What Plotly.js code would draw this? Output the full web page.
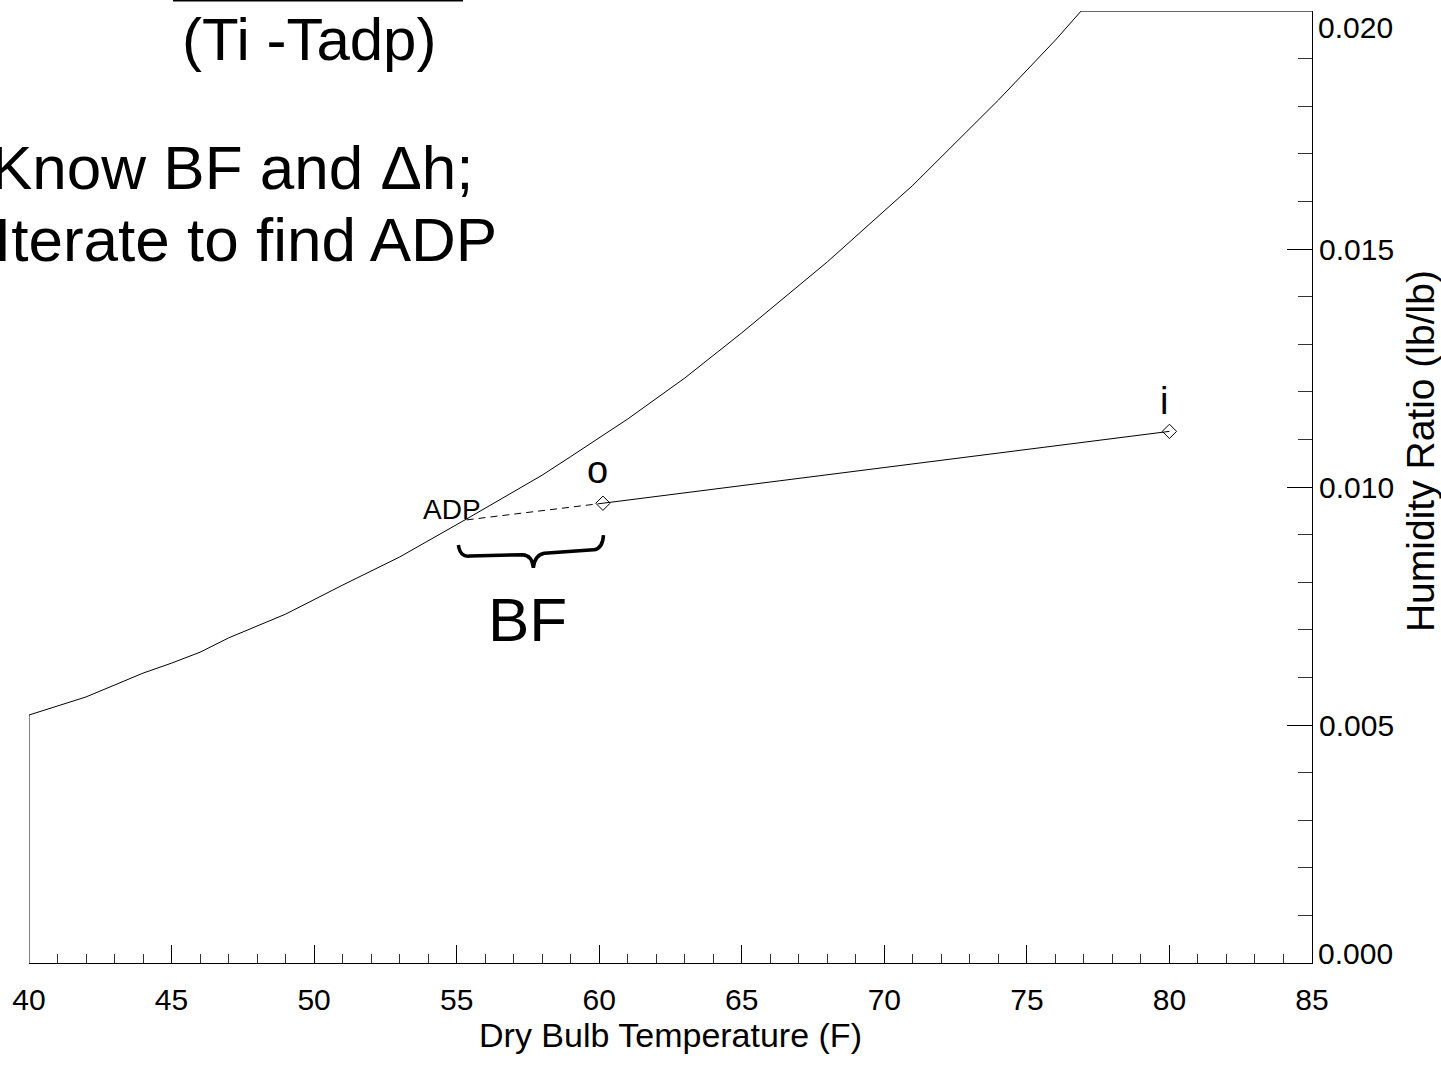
<!DOCTYPE html>
<html>
<head>
<meta charset="utf-8">
<script src="https://cdn.plot.ly/plotly-3.0.1.min.js"></script>
<style>
  html, body { margin: 0; padding: 0; background: #ffffff; }
  #chart { width: 1441px; height: 1070px; }
</style>
</head>
<body>
<div id="chart"></div>
<script>
// Saturation curve (dry bulb F, humidity ratio lb/lb)
const satT = [40, 42, 44, 45, 46, 47, 49, 51, 53, 55.35, 58, 59, 61, 63, 65, 68, 71, 74, 76, 76.9];
const satW = [0.00521, 0.00559, 0.00609, 0.00630, 0.00653, 0.00683, 0.00733, 0.00794, 0.00853, 0.00933,
              0.01025, 0.01064, 0.01143, 0.01229, 0.01324, 0.01473, 0.01634, 0.01813, 0.01939, 0.02000];
// Chart boundary limits
const tMin = 40, tMax = 85;
const wMin = 0, wMax = 0.020;

// Axis ticks
const xTickVals = [40, 45, 50, 55, 60, 65, 70, 75, 80, 85];
const yTickVals = [0, 0.005, 0.010, 0.015, 0.020];
// end labels are drawn nudged inside the plot (as in the reference), middle ones by the axis
const yTickText = ['', '0.005', '0.010', '0.015', ''];
const yEndLabels = ['0.000', '0.020'];

// Process points
const ptLabels = ['ADP', 'o', 'i'];
const ptT = [55.35, 60.13, 80.0];
const ptW = [0.00931, 0.00966, 0.01117];

// Text
const xTitle = 'Dry Bulb Temperature (F)';
const yTitle = 'Humidity Ratio (lb/lb)';
const noteLines = ['(Ti -Tadp)', 'Know BF and \u0394h;', 'Iterate to find ADP'];
const braceLabel = 'BF';

const FONT = 'Liberation Sans, Arial, sans-serif';

const boundaryX = [tMin].concat(satT, [tMax]);
const boundaryY = [wMin].concat(satW, [wMax]);

const traces = [
  { x: boundaryX, y: boundaryY, mode: 'lines', line: { color: '#000', width: 1 }, hoverinfo: 'skip', showlegend: false },
  { x: [ptT[0], ptT[1]], y: [ptW[0], ptW[1]], mode: 'lines', line: { color: '#000', width: 1, dash: '7px,5px' }, showlegend: false },
  { x: [ptT[1], ptT[2]], y: [ptW[1], ptW[2]], mode: 'lines+markers', line: { color: '#000', width: 1 },
    marker: { symbol: 'diamond-open', size: 11, color: '#000', line: { width: 1, color: '#000' } }, showlegend: false }
];

// Brace under ADP -> o (BF)
const bL = ptT[0] - 0.29, bR = ptT[1] + 0.02, bM = 57.69;
const braceTop = 0.00899, braceTip = 0.00830;
const bracePath = 'M ' + bL + ',0.00878 Q ' + (bL + 0.06) + ',0.00852 ' + (bL + 0.4) + ',0.00855 ' +
  'L ' + (bM - 0.38) + ',0.00858 Q ' + (bM - 0.04) + ',0.00857 ' + bM + ',' + braceTip + ' ' +
  'Q ' + (bM + 0.04) + ',0.00857 ' + (bM + 0.38) + ',0.00861 ' +
  'L ' + (bR - 0.35) + ',0.00868 Q ' + (bR - 0.03) + ',0.00870 ' + bR + ',' + braceTop;

const annotations = [
  { x: ptT[0], y: ptW[0], text: ptLabels[0], xanchor: 'right', yanchor: 'middle', xshift: 16, yshift: 10,
    showarrow: false, font: { family: FONT, size: 28, color: '#000' } },
  { x: ptT[1], y: ptW[1], text: ptLabels[1], xanchor: 'center', yanchor: 'middle', xshift: -5, yshift: 33,
    showarrow: false, font: { family: FONT, size: 38, color: '#000' } },
  { x: ptT[2], y: ptW[2], text: ptLabels[2], xanchor: 'center', yanchor: 'middle', xshift: -5, yshift: 30,
    showarrow: false, font: { family: FONT, size: 38, color: '#000' } },
  { x: 57.5, y: 0.00722, text: braceLabel, xanchor: 'center', yanchor: 'middle', showarrow: false,
    font: { family: FONT, size: 62, color: '#000' } },
  { xref: 'paper', yref: 'paper', x: 0.2185, y: 0.9700, text: noteLines[0], xanchor: 'center', yanchor: 'middle',
    showarrow: false, font: { family: FONT, size: 60, color: '#000' } },
  { xref: 'paper', yref: 'paper', x: -0.0312, y: 0.836, text: noteLines[1], xanchor: 'left', yanchor: 'middle',
    showarrow: false, font: { family: FONT, size: 62, color: '#000' } },
  { xref: 'paper', yref: 'paper', x: -0.0285, y: 0.7595, text: noteLines[2], xanchor: 'left', yanchor: 'middle',
    showarrow: false, font: { family: FONT, size: 62, color: '#000' } },
  { xref: 'paper', yref: 'paper', x: 1.0842, y: 0.5378, text: yTitle, textangle: -90, xanchor: 'center', yanchor: 'middle',
    showarrow: false, font: { family: FONT, size: 39, color: '#000' } },
  { xref: 'paper', yref: 'y', x: 1, y: wMin, text: yEndLabels[0], xanchor: 'left', yanchor: 'middle', xshift: 4, yshift: 10,
    showarrow: false, font: { family: FONT, size: 30, color: '#000' } },
  { xref: 'paper', yref: 'y', x: 1, y: wMax, text: yEndLabels[1], xanchor: 'left', yanchor: 'middle', xshift: 4, yshift: -16,
    showarrow: false, font: { family: FONT, size: 30, color: '#000' } }
];

const shapes = [
  { type: 'path', xref: 'x', yref: 'y', path: bracePath, line: { color: '#000', width: 3.5 } },
  { type: 'line', xref: 'paper', yref: 'paper', x0: 0.1122, x1: 0.3383, y0: 1.0110, y1: 1.0110,
    line: { color: '#000', width: 2 } }
];

const layout = {
  width: 1441, height: 1070,
  paper_bgcolor: '#fff', plot_bgcolor: '#fff',
  margin: { l: 29, r: 129, t: 11, b: 107 },
  showlegend: false,
  font: { family: FONT, color: '#000' },
  xaxis: {
    range: [tMin, tMax], tickmode: 'array', tickvals: xTickVals,
    showgrid: false, zeroline: false,
    showline: true, linecolor: '#000', linewidth: 1,
    ticks: 'inside', ticklen: 18, tickwidth: 1, tickcolor: '#000',
    ticklabelstandoff: 10,
    minor: { ticks: 'inside', ticklen: 9, dtick: 1, tick0: 40, tickcolor: '#333', tickwidth: 1, showgrid: false },
    tickfont: { family: FONT, size: 30, color: '#000' },
    title: { text: xTitle, font: { family: FONT, size: 34, color: '#000' }, standoff: 8 }
  },
  yaxis: {
    range: [wMin, wMax + 0.000002], tickmode: 'array', tickvals: yTickVals, ticktext: yTickText, side: 'right',
    showgrid: false, zeroline: false,
    showline: true, linecolor: '#000', linewidth: 1,
    ticks: 'inside', ticklen: 25, tickwidth: 1, tickcolor: '#000',
    minor: { ticks: 'inside', ticklen: 14, dtick: 0.001, tick0: 0, tickcolor: '#333', tickwidth: 1, showgrid: false },
    tickfont: { family: FONT, size: 30, color: '#000' }
  },
  annotations: annotations,
  shapes: shapes
};

Plotly.newPlot('chart', traces, layout, { displayModeBar: false, staticPlot: true });
</script>
</body>
</html>
